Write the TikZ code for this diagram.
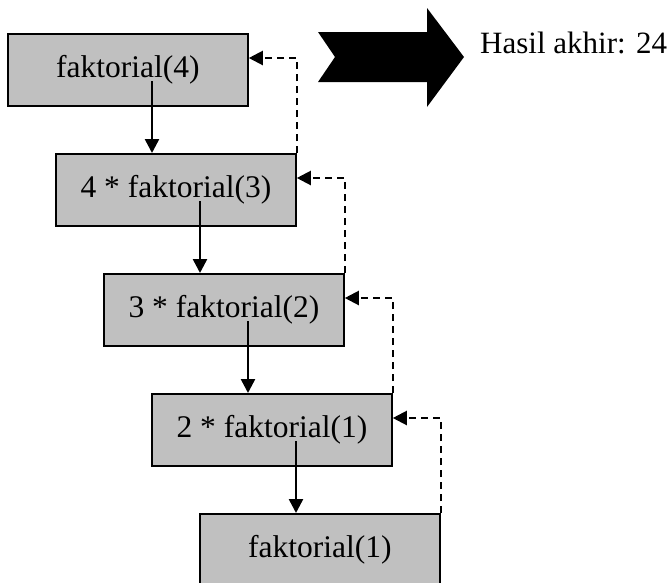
\documentclass[tikz,border=0pt]{standalone}
\usepackage{fontspec}
\setmainfont{Liberation Serif}
\newfontfamily\tnr{Liberation Serif}
\usetikzlibrary{arrows.meta}
\definecolor{boxgray}{HTML}{C0C0C0}
\tikzset{
  bigtext/.style={font=\tnr\fontsize{31.5}{36}\selectfont},
  callbox/.style={draw=black, line width=1.8pt, fill=boxgray, minimum width=240pt, minimum height=72pt, inner sep=0pt, anchor=north west, bigtext},
  callarrow/.style={line width=2.5pt, -{Triangle[width=14pt,length=14pt]}},
  retarrow/.style={line width=2.2pt, dash pattern=on 7pt off 5pt, -{Triangle[width=14pt,length=14pt]}},
}
\begin{document}
\begin{tikzpicture}[x=1pt,y=-1pt]
\useasboundingbox (0,0) rectangle (672,582);
\node[callbox] (b1) at (7,33) {faktorial(4)};
\node[callbox] (b2) at (55,153) {4 * faktorial(3)};
\node[callbox] (b3) at (103,273) {3 * faktorial(2)};
\node[callbox] (b4) at (151,393) {2 * faktorial(1)};
\node[callbox] (b5) at (199,513) {faktorial(1)};
% calls
\foreach \a/\b in {b1/b2,b2/b3,b3/b4,b4/b5}{
  \draw[callarrow] ([xshift=145pt,yshift=-48pt]\a.north west) -- ([xshift=145pt]\a.north west |- \b.north);
}
% returns
\foreach \a/\b in {b2/b1,b3/b2,b4/b3,b5/b4}{
  \draw[retarrow] (\a.north east) |- ([yshift=-25pt]\b.north east);
}
% big arrow
\fill[black] (318,32) -- (427,32) -- (427,8) -- (464,57) -- (427,107) -- (427,82) -- (318,82) -- (335,57) -- cycle;
\node[anchor=base west, inner sep=0pt, font=\tnr\fontsize{31}{36}\selectfont] (res) at (480,53) {Hasil akhir: 24};
\end{tikzpicture}
\end{document}
